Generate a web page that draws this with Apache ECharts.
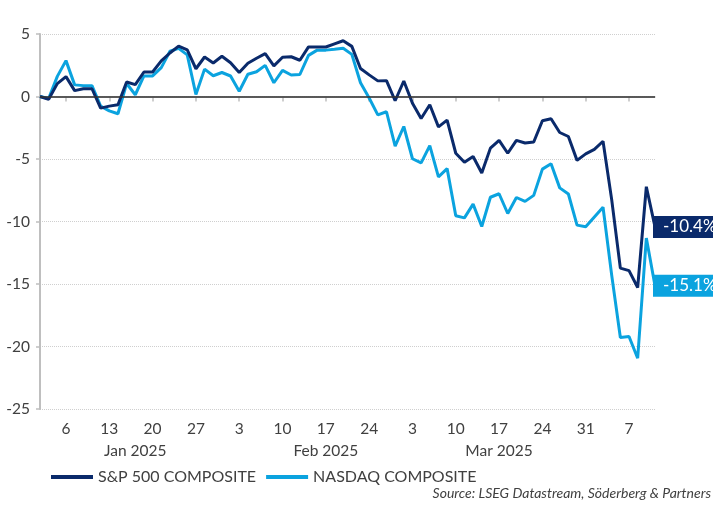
<!DOCTYPE html>
<html><head><meta charset="utf-8">
<script src="https://cdn.jsdelivr.net/npm/echarts@6/dist/echarts.min.js"></script>
<style>html,body{margin:0;padding:0;background:#fff}#c{width:713px;height:506px}</style>
</head><body><div id="c"></div>
<script>
// Trading-day categories (weekdays), 1 Jan 2025 – 10 Apr 2025
const dates = [];
(function(){
  const d = new Date(Date.UTC(2025,0,1));
  const end = new Date(Date.UTC(2025,3,10));
  while (d <= end) {
    const wd = d.getUTCDay();
    if (wd !== 0 && wd !== 6) dates.push(d.toISOString().slice(0,10));
    d.setUTCDate(d.getUTCDate()+1);
  }
})();
const monthNames = ['Jan','Feb','Mar','Apr'];
const yTicks = [5, 0, -5, -10, -15, -20, -25];

// % change since 31 Dec 2024
const sp500 = [0,-0.22,1.03,1.59,0.47,0.62,0.62,-0.93,-0.77,-0.66,1.16,0.95,1.96,1.96,2.85,3.48,4.03,3.73,2.22,3.16,2.68,3.22,2.70,
1.92,2.66,3.06,3.43,2.45,3.14,3.18,2.90,3.97,3.96,3.96,4.21,4.46,4.01,2.24,1.73,1.25,1.27,-0.34,1.24,
-0.54,-1.76,-0.66,-2.43,-1.89,-4.54,-5.26,-4.80,-6.12,-4.13,-3.51,-4.54,-3.51,-3.72,-3.64,-1.94,-1.78,-2.88,-3.20,-5.11,-4.59,
-4.23,-3.58,-8.25,-13.73,-13.93,-15.28,-7.22,-10.43];
const nasdaq = [0,-0.16,1.61,2.87,0.93,0.87,0.87,-0.77,-1.15,-1.38,1.04,0.14,1.65,1.65,2.31,3.62,3.85,3.33,0.16,2.19,1.66,1.92,1.64,
0.42,1.78,1.98,2.49,1.10,2.09,1.72,1.76,3.29,3.71,3.71,3.78,3.86,3.37,1.10,-0.12,-1.47,-1.22,-3.97,-2.40,
-4.98,-5.31,-3.93,-6.43,-5.77,-9.54,-9.71,-8.61,-10.40,-8.06,-7.78,-9.36,-8.08,-8.39,-7.91,-5.81,-5.38,-7.31,-7.80,-10.29,-10.42,
-9.64,-8.86,-14.29,-19.28,-19.20,-20.94,-11.32,-15.14];

const seriesNames = ['S&P 500 COMPOSITE', 'NASDAQ COMPOSITE'];
const colors = ['#0a2a6b', '#0ba3df'];
const sourceText = 'Source: LSEG Datastream, Söderberg & Partners';

// month label positions: middle trading day of each month
const monthMid = {};
(function(){
  const groups = {};
  dates.forEach((d,i)=>{ const m=d.slice(0,7); (groups[m]=groups[m]||[]).push(i); });
  Object.keys(groups).forEach(m=>{
    const g = groups[m];
    if (g.length > 10) monthMid[g[Math.floor(g.length/2)]] = m;
  });
})();
const isMonday = (i) => new Date(dates[i]+'T00:00:00Z').getUTCDay() === 1;

const FONT = 'Lato';
const TXT = '#404040';
const chart = echarts.init(document.getElementById('c'), null, {renderer:'canvas'});
chart.setOption({
  animation: false,
  color: colors,
  textStyle: {fontFamily: FONT},
  grid: {left: 40, right: 58, top: 34, bottom: 97},
  title: {
    text: sourceText, right: 0, top: 484, padding: [2, 2, 2, 2],
    textStyle: {fontFamily: FONT, fontSize: 14, fontStyle: 'italic', fontWeight: 'normal', color: TXT}
  },
  legend: {
    left: 46, top: 464, itemWidth: 42, itemHeight: 4, itemGap: 10, icon: 'rect',
    textStyle: {fontFamily: FONT, fontSize: 16, color: TXT},
    data: seriesNames
  },
  xAxis: [{
    type: 'category', data: dates, boundaryGap: false,
    axisLine: {lineStyle: {color: '#bfbfbf', width: 1.5}},
    axisTick: {show: true, length: 5, interval: (i)=>isMonday(i), lineStyle: {color: '#bfbfbf', width: 1.5}},
    axisLabel: {interval: (i)=>isMonday(i), formatter: (v)=>String(parseInt(v.slice(8,10),10)),
      fontFamily: FONT, fontSize: 15.5, color: TXT, margin: 12},
    splitLine: {show: false}
  },{
    type: 'category', data: dates, boundaryGap: false, position: 'bottom', offset: 22,
    axisLine: {show: false}, axisTick: {show: false},
    axisLabel: {interval: (i)=>monthMid[i] !== undefined,
      formatter: (v)=> monthNames[parseInt(v.slice(5,7),10)-1] + ' ' + v.slice(0,4),
      fontFamily: FONT, fontSize: 15.5, color: TXT, margin: 12},
    splitLine: {show: false}
  }],
  yAxis: {
    type: 'value', min: -25, max: 5, interval: 5,
    axisLine: {show: true, lineStyle: {color: '#bfbfbf', width: 2}},
    axisTick: {show: true, length: 4, lineStyle: {color: '#bfbfbf', width: 1.5}},
    axisLabel: {fontFamily: FONT, fontSize: 15.5, color: TXT, margin: 10},
    splitLine: {show: true, lineStyle: {color: '#cfcfcf', type: 'dotted', width: 1}}
  },
  series: [{
    name: seriesNames[0], type: 'line', data: sp500, showSymbol: false, symbol: 'none',
    lineStyle: {width: 3, color: colors[0]}, z: 3,
    endLabel: {show: true, formatter: (p)=>p.value.toFixed(1)+'%', backgroundColor: colors[0],
      color: '#fff', fontFamily: FONT, fontSize: 17, padding: [3, 10, 2, 10], distance: -2},
    markLine: {silent: true, symbol: 'none', label: {show: false},
      lineStyle: {color: '#333', width: 1.5, type: 'solid'}, data: [{yAxis: 0}]}
  },{
    name: seriesNames[1], type: 'line', data: nasdaq, showSymbol: false, symbol: 'none',
    lineStyle: {width: 3, color: colors[1]}, z: 2,
    endLabel: {show: true, formatter: (p)=>p.value.toFixed(1)+'%', backgroundColor: colors[1],
      color: '#fff', fontFamily: FONT, fontSize: 17, padding: [3, 10, 2, 10], distance: -2}
  }]
});
</script></body></html>
